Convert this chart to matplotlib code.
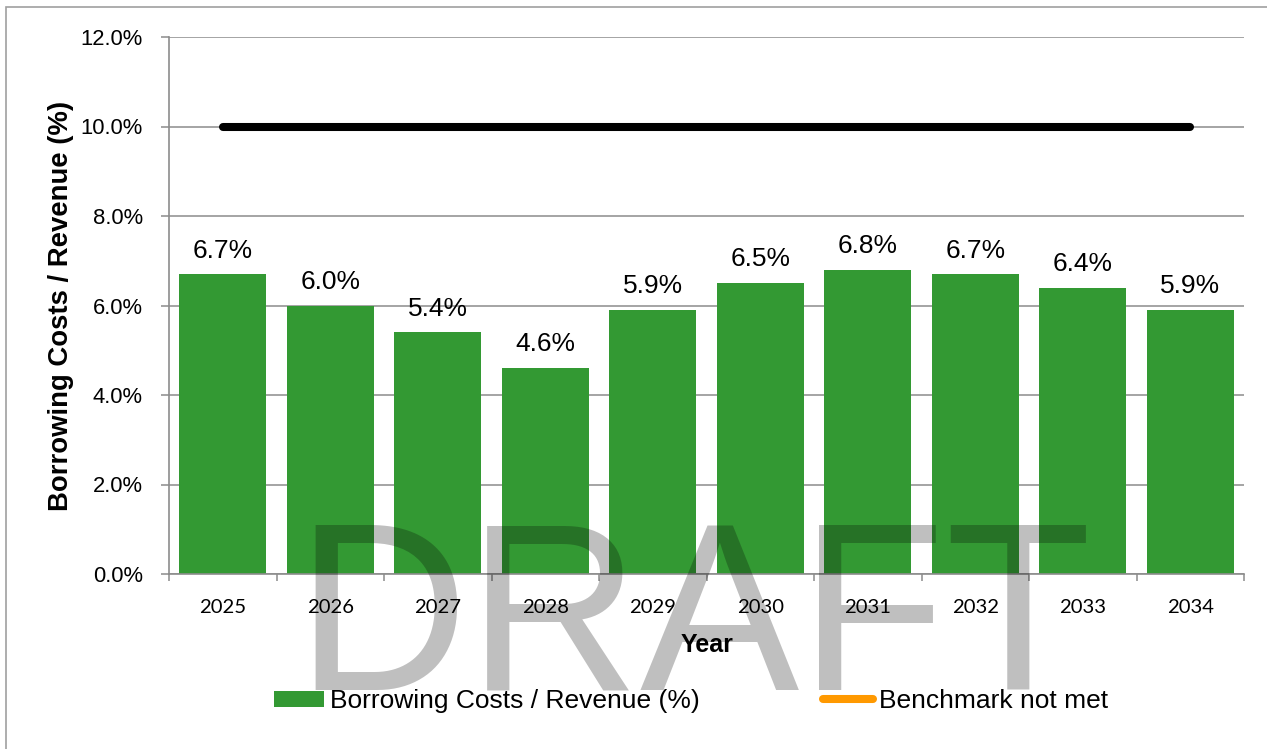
import matplotlib
matplotlib.use("Agg")
import matplotlib.pyplot as plt
import numpy as np
from matplotlib.patches import Patch, Rectangle
from matplotlib.lines import Line2D
from matplotlib.ticker import FixedLocator, PercentFormatter

years = ["2025", "2026", "2027", "2028", "2029", "2030", "2031", "2032", "2033", "2034"]
ratio = [6.7, 6.0, 5.4, 4.6, 5.9, 6.5, 6.8, 6.7, 6.4, 5.9]
benchmark = [10.0] * 10
not_met = [np.nan] * 10
yticks = [0, 2, 4, 6, 8, 10, 12]

W, H = 1267, 749
fig = plt.figure(figsize=(W / 100, H / 100), dpi=100)
plt.rcParams['font.family'] = ['Liberation Sans', 'DejaVu Sans']

# outer frame (left and top edges visible)
fig.add_artist(Rectangle((6 / W, -0.1), 1.2, 1 - 7 / H + 0.1, transform=fig.transFigure,
                         fill=False, edgecolor="#a0a0a0", linewidth=1.2))

ax = fig.add_axes([169 / W, 1 - 574 / H, (1244 - 169) / W, (574 - 37) / H])
x = np.arange(len(years))
ax.bar(x, ratio, width=0.81, color="#339933", zorder=2)
ax.plot(x, benchmark, color="black", linewidth=5.8, solid_capstyle="round", zorder=3)
ax.plot(x, not_met, color="#ff9900", linewidth=5.8, solid_capstyle="round")

for xi, v in zip(x, ratio):
    ax.annotate(f"{v:.1f}%", (xi, v), xytext=(0, 12), textcoords="offset points",
                ha="center", va="baseline", fontsize=19, color="black", zorder=4)

ax.set_xlim(-0.5, len(years) - 0.5)
ax.set_ylim(0, 12)
ax.set_yticks(yticks)
ax.yaxis.set_major_formatter(PercentFormatter(decimals=1))
ax.grid(axis="y", color="#8c8c8c", linewidth=1.1, zorder=0)
ax.set_axisbelow(True)
for s in ["top", "right"]:
    ax.spines[s].set_visible(False)
for s in ["left", "bottom"]:
    ax.spines[s].set_color("#8c8c8c")
    ax.spines[s].set_linewidth(1.2)
ax.tick_params(axis="y", length=5.8, width=1.1, color="#8c8c8c", pad=13, labelsize=15.8)
ax.set_xticks(x)
ax.set_xticklabels(years, fontfamily="Lato", fontsize=14.6)
ax.tick_params(axis="x", which="major", length=0, pad=18)
ax.xaxis.set_minor_locator(FixedLocator(np.arange(-0.5, len(years), 1.0)))
ax.tick_params(axis="x", which="minor", length=5, width=1.1, color="#8c8c8c")

ax.set_ylabel("Borrowing Costs / Revenue (%)", fontsize=19.8, fontweight="bold")
ax.yaxis.set_label_coords((74 - 169) / (1244 - 169), 0.5)
fig.text(707 / W, 1 - 645 / H, "Year", fontsize=18, fontweight="bold", ha="center", va="center")

handles = [Patch(facecolor="#339933", edgecolor="none"),
           Line2D([0], [0], color="#ff9900", linewidth=5.8, solid_capstyle="round")]
fig.legend(handles, ["Borrowing Costs / Revenue (%)", "Benchmark not met"], ncol=2,
           loc="center", bbox_to_anchor=(691 / W, 1 - 701 / H), frameon=False,
           fontsize=19, handlelength=1.9, handleheight=0.55, handletextpad=0.2,
           columnspacing=4.7, borderaxespad=0, borderpad=0)

fig.text(694 / W, 1 - 690 / H, "DRAFT", fontsize=172, color="black", alpha=0.25,
         ha="center", va="baseline", zorder=10)

fig.savefig("out.png", dpi=100)
